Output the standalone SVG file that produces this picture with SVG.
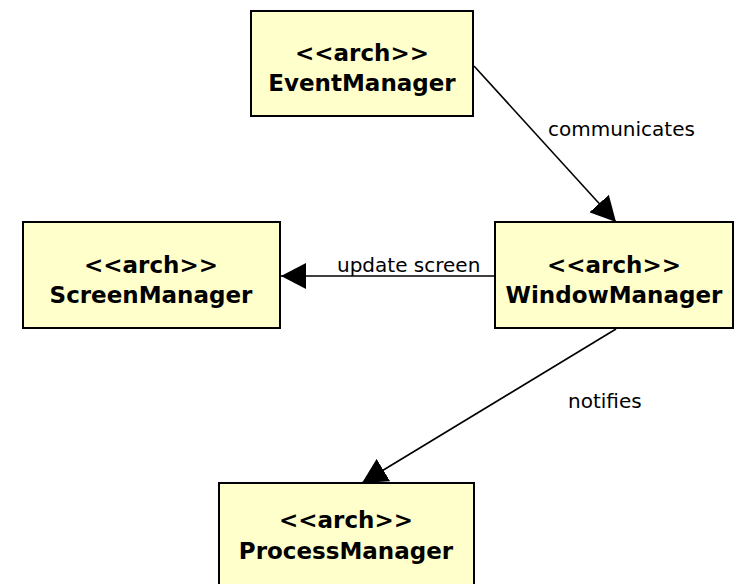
<svg xmlns="http://www.w3.org/2000/svg" width="735" height="584" viewBox="0 0 735 584">
  <style>
    .box { fill: #ffffcc; stroke: #000; stroke-width: 2; }
    .name { font-family: "DejaVu Sans", sans-serif; font-weight: bold; font-size: 23px; text-anchor: middle; fill: #000; }
    .edge { stroke: #000; stroke-width: 1.6; fill: none; marker-end: url(#head); }
    .label { font-family: "DejaVu Sans", sans-serif; font-size: 20px; fill: #000; }
  </style>
  <defs>
    <marker id="head" viewBox="0 0 25 26" refX="25" refY="13" markerWidth="25" markerHeight="26" markerUnits="userSpaceOnUse" orient="auto">
      <path d="M0,0 L25,13 L0,26 Z" fill="#000"/>
    </marker>
  </defs>

  <g id="connectors">
    <path class="edge" d="M474,66 L616,222"/>
    <path class="edge" d="M495,276 L281,276"/>
    <path class="edge" d="M616,329 L362,483"/>
    <text class="label" x="548" y="136">communicates</text>
    <text class="label" x="337" y="272">update screen</text>
    <text class="label" x="568" y="408">notifies</text>
  </g>

  <g id="EventManager">
    <rect class="box" x="251" y="11" width="222" height="105"/>
    <text class="name" x="362" y="61">&lt;&lt;arch&gt;&gt;</text>
    <text class="name" x="362" y="91">EventManager</text>
  </g>

  <g id="ScreenManager">
    <rect class="box" x="23" y="222" width="257" height="106"/>
    <text class="name" x="151" y="273">&lt;&lt;arch&gt;&gt;</text>
    <text class="name" x="151" y="303">ScreenManager</text>
  </g>

  <g id="WindowManager">
    <rect class="box" x="495" y="222" width="238" height="106"/>
    <text class="name" x="614" y="273">&lt;&lt;arch&gt;&gt;</text>
    <text class="name" x="614" y="303">WindowManager</text>
  </g>

  <g id="ProcessManager">
    <rect class="box" x="219" y="483" width="255" height="110"/>
    <text class="name" x="346" y="528">&lt;&lt;arch&gt;&gt;</text>
    <text class="name" x="346" y="559">ProcessManager</text>
  </g>
</svg>
